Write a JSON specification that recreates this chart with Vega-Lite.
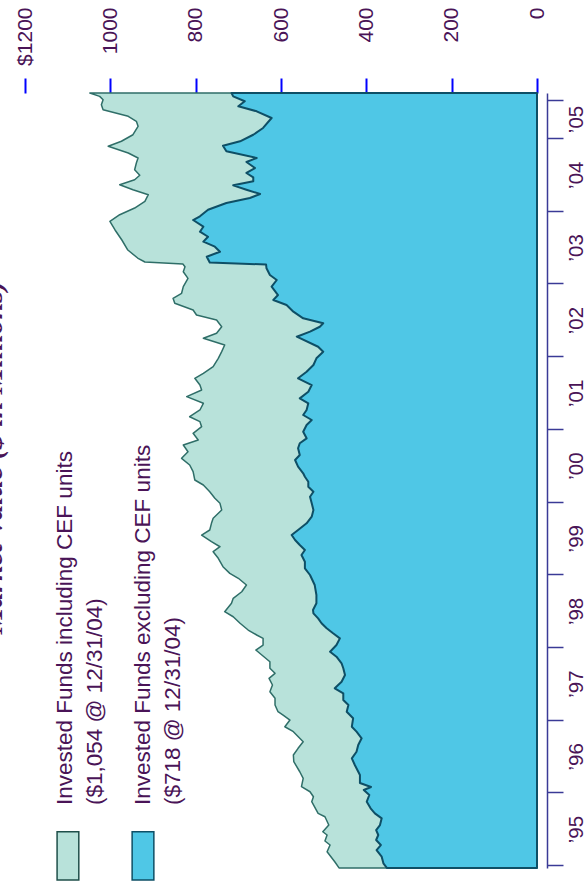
{
  "$schema": "https://vega.github.io/schema/vega-lite/v6.json",
  "width": 512,
  "height": 775,
  "autosize": {"type": "none"},
  "padding": {"left": 25, "top": 93, "right": 50, "bottom": 20},
  "background": "white",
  "title": {"text": "Market Value ($ in Millions)", "orient": "left", "anchor": "middle", "frame": "group", "offset": 6, "dx": 23, "font": "Liberation Serif", "fontSize": 30, "fontStyle": "italic", "fontWeight": "bold", "color": "#4a1457"},
  "config": {"view": {"stroke": null}},
  "datasets": {
    "incl": [
      {"year": 1994.96, "value": 464}, {"year": 1995.045, "value": 474}, {"year": 1995.183, "value": 492}, {"year": 1995.275, "value": 485}, {"year": 1995.33, "value": 497}, {"year": 1995.413, "value": 492}, {"year": 1995.458, "value": 502}, {"year": 1995.55, "value": 488}, {"year": 1995.664, "value": 497}, {"year": 1995.711, "value": 513}, {"year": 1995.871, "value": 528}, {"year": 1995.939, "value": 524}, {"year": 1996.008, "value": 532}, {"year": 1996.077, "value": 552}, {"year": 1996.193, "value": 548}, {"year": 1996.283, "value": 556}, {"year": 1996.421, "value": 570}, {"year": 1996.513, "value": 571}, {"year": 1996.605, "value": 560}, {"year": 1996.696, "value": 548}, {"year": 1996.834, "value": 571}, {"year": 1996.902, "value": 591}, {"year": 1996.994, "value": 579}, {"year": 1997.063, "value": 595}, {"year": 1997.109, "value": 607}, {"year": 1997.201, "value": 614}, {"year": 1997.293, "value": 614}, {"year": 1997.384, "value": 626}, {"year": 1997.476, "value": 620}, {"year": 1997.568, "value": 628}, {"year": 1997.637, "value": 614}, {"year": 1997.706, "value": 626}, {"year": 1997.796, "value": 626}, {"year": 1997.889, "value": 645}, {"year": 1997.957, "value": 659}, {"year": 1998.026, "value": 642}, {"year": 1998.118, "value": 642}, {"year": 1998.164, "value": 657}, {"year": 1998.232, "value": 677}, {"year": 1998.325, "value": 696}, {"year": 1998.415, "value": 712}, {"year": 1998.484, "value": 732}, {"year": 1998.6, "value": 716}, {"year": 1998.668, "value": 712}, {"year": 1998.759, "value": 692}, {"year": 1998.851, "value": 681}, {"year": 1998.944, "value": 700}, {"year": 1999.012, "value": 720}, {"year": 1999.103, "value": 736}, {"year": 1999.219, "value": 747}, {"year": 1999.31, "value": 759}, {"year": 1999.378, "value": 743}, {"year": 1999.447, "value": 763}, {"year": 1999.539, "value": 786}, {"year": 1999.608, "value": 767}, {"year": 1999.7, "value": 763}, {"year": 1999.769, "value": 759}, {"year": 1999.883, "value": 739}, {"year": 1999.975, "value": 743}, {"year": 2000.044, "value": 755}, {"year": 2000.135, "value": 767}, {"year": 2000.227, "value": 782}, {"year": 2000.296, "value": 802}, {"year": 2000.41, "value": 806}, {"year": 2000.502, "value": 814}, {"year": 2000.594, "value": 833}, {"year": 2000.685, "value": 818}, {"year": 2000.777, "value": 829}, {"year": 2000.846, "value": 794}, {"year": 2000.938, "value": 806}, {"year": 2001.029, "value": 786}, {"year": 2001.098, "value": 790}, {"year": 2001.166, "value": 814}, {"year": 2001.259, "value": 790}, {"year": 2001.351, "value": 782}, {"year": 2001.442, "value": 821}, {"year": 2001.534, "value": 786}, {"year": 2001.602, "value": 790}, {"year": 2001.695, "value": 802}, {"year": 2001.763, "value": 782}, {"year": 2001.854, "value": 759}, {"year": 2001.97, "value": 747}, {"year": 2002.061, "value": 739}, {"year": 2002.153, "value": 732}, {"year": 2002.245, "value": 782}, {"year": 2002.314, "value": 751}, {"year": 2002.404, "value": 739}, {"year": 2002.497, "value": 751}, {"year": 2002.565, "value": 798}, {"year": 2002.634, "value": 806}, {"year": 2002.726, "value": 849}, {"year": 2002.795, "value": 853}, {"year": 2002.864, "value": 833}, {"year": 2002.955, "value": 829}, {"year": 2003.07, "value": 818}, {"year": 2003.161, "value": 829}, {"year": 2003.23, "value": 825}, {"year": 2003.267, "value": 830}, {"year": 2003.294, "value": 919}, {"year": 2003.349, "value": 936}, {"year": 2003.459, "value": 959}, {"year": 2003.597, "value": 973}, {"year": 2003.735, "value": 989}, {"year": 2003.854, "value": 1001}, {"year": 2003.945, "value": 978}, {"year": 2004.037, "value": 943}, {"year": 2004.129, "value": 919}, {"year": 2004.22, "value": 911}, {"year": 2004.289, "value": 947}, {"year": 2004.358, "value": 978}, {"year": 2004.426, "value": 943}, {"year": 2004.487, "value": 931}, {"year": 2004.564, "value": 943}, {"year": 2004.656, "value": 939}, {"year": 2004.725, "value": 935}, {"year": 2004.794, "value": 958}, {"year": 2004.886, "value": 1005}, {"year": 2004.955, "value": 974}, {"year": 2005.045, "value": 947}, {"year": 2005.161, "value": 935}, {"year": 2005.23, "value": 939}, {"year": 2005.298, "value": 958}, {"year": 2005.389, "value": 1017}, {"year": 2005.458, "value": 1021}, {"year": 2005.527, "value": 1017}, {"year": 2005.573, "value": 1025}, {"year": 2005.619, "value": 1048}
    ],
    "excl": [
      {"year": 1994.96, "value": 352}, {"year": 1995.023, "value": 360}, {"year": 1995.114, "value": 364}, {"year": 1995.206, "value": 376}, {"year": 1995.275, "value": 366}, {"year": 1995.344, "value": 377}, {"year": 1995.413, "value": 372}, {"year": 1995.481, "value": 377}, {"year": 1995.55, "value": 368}, {"year": 1995.642, "value": 364}, {"year": 1995.711, "value": 380}, {"year": 1995.78, "value": 390}, {"year": 1995.871, "value": 399}, {"year": 1995.963, "value": 393}, {"year": 1996.032, "value": 406}, {"year": 1996.073, "value": 389}, {"year": 1996.128, "value": 415}, {"year": 1996.238, "value": 415}, {"year": 1996.376, "value": 427}, {"year": 1996.468, "value": 434}, {"year": 1996.558, "value": 423}, {"year": 1996.651, "value": 419}, {"year": 1996.743, "value": 411}, {"year": 1996.834, "value": 423}, {"year": 1996.902, "value": 434}, {"year": 1997.018, "value": 431}, {"year": 1997.109, "value": 446}, {"year": 1997.201, "value": 442}, {"year": 1997.27, "value": 454}, {"year": 1997.362, "value": 454}, {"year": 1997.431, "value": 474}, {"year": 1997.521, "value": 458}, {"year": 1997.613, "value": 450}, {"year": 1997.706, "value": 454}, {"year": 1997.774, "value": 458}, {"year": 1997.865, "value": 470}, {"year": 1997.934, "value": 485}, {"year": 1998.026, "value": 470}, {"year": 1998.118, "value": 462}, {"year": 1998.187, "value": 478}, {"year": 1998.256, "value": 493}, {"year": 1998.325, "value": 505}, {"year": 1998.393, "value": 513}, {"year": 1998.462, "value": 524}, {"year": 1998.508, "value": 525}, {"year": 1998.6, "value": 517}, {"year": 1998.714, "value": 517}, {"year": 1998.851, "value": 521}, {"year": 1998.989, "value": 532}, {"year": 1999.081, "value": 544}, {"year": 1999.172, "value": 544}, {"year": 1999.264, "value": 552}, {"year": 1999.333, "value": 544}, {"year": 1999.402, "value": 556}, {"year": 1999.47, "value": 567}, {"year": 1999.539, "value": 575}, {"year": 1999.608, "value": 560}, {"year": 1999.7, "value": 540}, {"year": 1999.791, "value": 528}, {"year": 1999.883, "value": 524}, {"year": 1999.975, "value": 528}, {"year": 2000.066, "value": 532}, {"year": 2000.135, "value": 524}, {"year": 2000.204, "value": 536}, {"year": 2000.272, "value": 536}, {"year": 2000.341, "value": 544}, {"year": 2000.388, "value": 548}, {"year": 2000.479, "value": 560}, {"year": 2000.571, "value": 567}, {"year": 2000.64, "value": 556}, {"year": 2000.732, "value": 560}, {"year": 2000.801, "value": 556}, {"year": 2000.869, "value": 540}, {"year": 2000.96, "value": 548}, {"year": 2001.052, "value": 540}, {"year": 2001.121, "value": 528}, {"year": 2001.19, "value": 548}, {"year": 2001.259, "value": 540}, {"year": 2001.351, "value": 536}, {"year": 2001.419, "value": 556}, {"year": 2001.51, "value": 536}, {"year": 2001.602, "value": 528}, {"year": 2001.695, "value": 560}, {"year": 2001.785, "value": 540}, {"year": 2001.878, "value": 524}, {"year": 2001.97, "value": 517}, {"year": 2002.061, "value": 501}, {"year": 2002.129, "value": 513}, {"year": 2002.267, "value": 563}, {"year": 2002.336, "value": 532}, {"year": 2002.404, "value": 509}, {"year": 2002.451, "value": 501}, {"year": 2002.52, "value": 548}, {"year": 2002.611, "value": 571}, {"year": 2002.703, "value": 587}, {"year": 2002.772, "value": 618}, {"year": 2002.84, "value": 607}, {"year": 2002.955, "value": 622}, {"year": 2003.047, "value": 610}, {"year": 2003.116, "value": 626}, {"year": 2003.208, "value": 634}, {"year": 2003.26, "value": 635}, {"year": 2003.287, "value": 767}, {"year": 2003.367, "value": 774}, {"year": 2003.436, "value": 743}, {"year": 2003.505, "value": 755}, {"year": 2003.574, "value": 782}, {"year": 2003.642, "value": 771}, {"year": 2003.711, "value": 790}, {"year": 2003.78, "value": 782}, {"year": 2003.872, "value": 806}, {"year": 2003.923, "value": 790}, {"year": 2004.014, "value": 771}, {"year": 2004.106, "value": 728}, {"year": 2004.175, "value": 673}, {"year": 2004.23, "value": 649}, {"year": 2004.289, "value": 681}, {"year": 2004.349, "value": 712}, {"year": 2004.404, "value": 665}, {"year": 2004.459, "value": 665}, {"year": 2004.519, "value": 681}, {"year": 2004.587, "value": 661}, {"year": 2004.67, "value": 681}, {"year": 2004.725, "value": 657}, {"year": 2004.817, "value": 728}, {"year": 2004.894, "value": 736}, {"year": 2004.955, "value": 696}, {"year": 2005.045, "value": 665}, {"year": 2005.138, "value": 642}, {"year": 2005.275, "value": 622}, {"year": 2005.367, "value": 657}, {"year": 2005.436, "value": 700}, {"year": 2005.505, "value": 685}, {"year": 2005.573, "value": 712}, {"year": 2005.619, "value": 716}
    ],
    "legend": [
      {"series": "incl", "label": ["Invested Funds including CEF units", "($1,054 @ 12/31/04)"]},
      {"series": "excl", "label": ["Invested Funds excluding CEF units", "($718 @ 12/31/04)"]}
    ]
  },
  "layer": [
    {
      "data": {"name": "incl"},
      "mark": {"type": "area", "orient": "horizontal", "fill": "#b8e2da", "stroke": "#2f6e68", "strokeWidth": 1.5, "strokeJoin": "round"},
      "encoding": {
        "x": {
          "field": "value", "type": "quantitative", "stack": null,
          "scale": {"domain": [0, 1200], "reverse": true, "nice": false, "zero": true},
          "axis": {"orient": "top", "values": [0, 200, 400, 600, 800, 1000, 1200], "format": "d", "labelExpr": "datum.value == 1200 ? '$1200' : datum.label", "title": null, "domain": false, "grid": false, "ticks": true, "tickSize": 15, "tickColor": "#0000ff", "tickWidth": 2, "labelAngle": 270, "labelAlign": "right", "labelBaseline": "middle", "labelPadding": 71, "labelFont": "Liberation Sans", "labelFontSize": 21, "labelColor": "#4a1457", "labelFlush": false, "labelOverlap": false, "labelBound": false}
        },
        "y": {
          "field": "year", "type": "quantitative",
          "scale": {"domain": [1994.959, 2005.619], "nice": false, "zero": false},
          "axis": {"orient": "right", "offset": 10, "values": [1995, 1996, 1997, 1998, 1999, 2000, 2001, 2002, 2003, 2004, 2005, 2005.52], "labelExpr": "datum.value > 2005.1 ? '' : '\u2019' + substring(toString(datum.value), 2, 4)", "title": null, "grid": false, "domainColor": "#3a3a96", "domainWidth": 1.5, "tickColor": "#3a3a96", "tickWidth": 1.5, "tickSize": 16, "labelAngle": 270, "labelAlign": "center", "labelBaseline": "middle", "labelPadding": 13, "labelOffset": {"condition": {"test": "datum.value >= 2005", "value": -19}, "value": -36}, "labelFont": "Liberation Sans", "labelFontSize": 20.5, "labelColor": "#4a1457", "labelFlush": false, "labelOverlap": false, "labelBound": false}
        }
      }
    },
    {
      "data": {"name": "excl"},
      "mark": {"type": "area", "orient": "horizontal", "fill": "#4fc7e6", "stroke": "#0e4f66", "strokeWidth": 2, "strokeJoin": "round"},
      "encoding": {
        "x": {"field": "value", "type": "quantitative", "stack": null},
        "y": {"field": "year", "type": "quantitative"}
      }
    },
    {
      "data": {"name": "legend"},
      "transform": [{"filter": "datum.series == 'incl'"}],
      "mark": {"type": "rect", "fill": "#b8e2da", "stroke": "#1f4f4a", "strokeWidth": 1.5},
      "encoding": {"x": {"datum": 1124.8}, "x2": {"datum": 1073.9}, "y": {"datum": 1995.458}, "y2": {"datum": 1994.794}}
    },
    {
      "data": {"name": "legend"},
      "transform": [{"filter": "datum.series == 'excl'"}],
      "mark": {"type": "rect", "fill": "#4fc7e6", "stroke": "#0e4f66", "strokeWidth": 1.5},
      "encoding": {"x": {"datum": 948.9}, "x2": {"datum": 898.0}, "y": {"datum": 1995.458}, "y2": {"datum": 1994.794}}
    },
    {
      "data": {"name": "legend"},
      "transform": [{"filter": "datum.series == 'incl'"}],
      "mark": {"type": "text", "angle": 270, "align": "left", "baseline": "alphabetic", "font": "Liberation Sans", "fontSize": 22.5, "lineHeight": 30, "color": "#4a1457"},
      "encoding": {"text": {"field": "label"}, "x": {"datum": 1090.3}, "y": {"datum": 1995.825}}
    },
    {
      "data": {"name": "legend"},
      "transform": [{"filter": "datum.series == 'excl'"}],
      "mark": {"type": "text", "angle": 270, "align": "left", "baseline": "alphabetic", "font": "Liberation Sans", "fontSize": 22.5, "lineHeight": 30, "color": "#4a1457"},
      "encoding": {"text": {"field": "label"}, "x": {"datum": 907.4}, "y": {"datum": 1995.825}}
    }
  ]
}
